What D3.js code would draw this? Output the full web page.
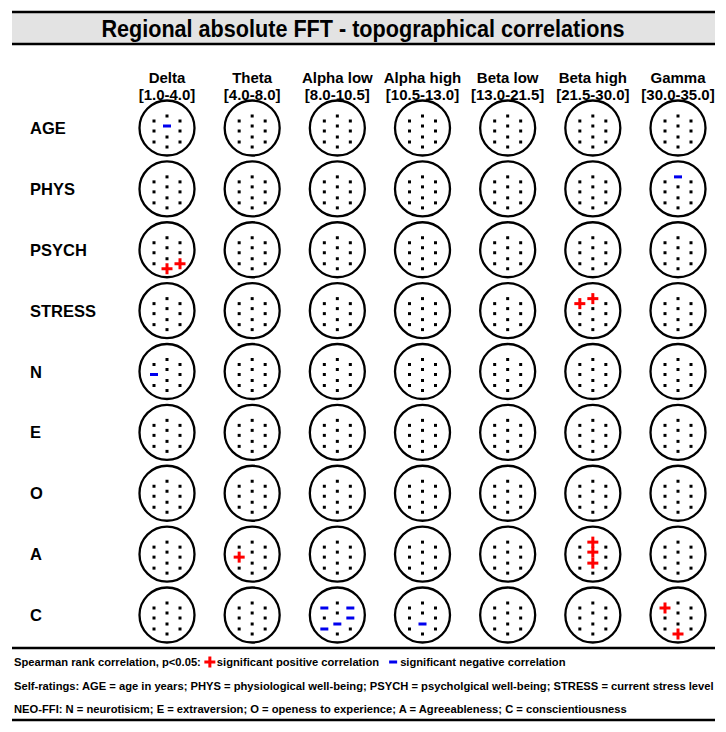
<!DOCTYPE html>
<html>
<head>
<meta charset="utf-8">
<script src="https://cdnjs.cloudflare.com/ajax/libs/d3/7.8.5/d3.min.js"></script>
<style>
  body { margin: 0; background: #fff; }
  text { font-family: "Liberation Sans", Arial, sans-serif; fill: #000; font-weight: bold; }
</style>
</head>
<body>
<div id="chart"></div>
<script>
// Frequency bands (columns)
var bands = ["Delta", "Theta", "Alpha low", "Alpha high", "Beta low", "Beta high", "Gamma"];
var bandRanges = ["[1.0-4.0]", "[4.0-8.0]", "[8.0-10.5]", "[10.5-13.0]", "[13.0-21.5]", "[21.5-30.0]", "[30.0-35.0]"];

// Self-ratings and NEO-FFI scales (rows)
var variables = ["AGE", "PHYS", "PSYCH", "STRESS", "N", "E", "O", "A", "C"];

// Electrodes on the head scheme
var electrodes = ["Fz", "Cz", "Pz", "Oz", "F3", "C3", "P3", "F4", "C4", "P4"];

// Significant correlations: variable, band, electrode, sign
var significant = [
  ["AGE", "Delta", "Cz", -1],
  ["PHYS", "Gamma", "Fz", -1],
  ["PSYCH", "Delta", "Oz", 1],
  ["PSYCH", "Delta", "P4", 1],
  ["STRESS", "Beta high", "Fz", 1],
  ["STRESS", "Beta high", "F3", 1],
  ["N", "Delta", "C3", -1],
  ["A", "Theta", "C3", 1],
  ["A", "Beta high", "Fz", 1],
  ["A", "Beta high", "Cz", 1],
  ["A", "Beta high", "Pz", 1],
  ["C", "Alpha low", "F3", -1],
  ["C", "Alpha low", "F4", -1],
  ["C", "Alpha low", "C4", -1],
  ["C", "Alpha low", "Pz", -1],
  ["C", "Alpha low", "P3", -1],
  ["C", "Alpha high", "Pz", -1],
  ["C", "Gamma", "F3", 1],
  ["C", "Gamma", "Oz", 1]
];

var legendTexts = ["Spearman rank correlation, p<0.05:", "significant positive correlation", "significant negative correlation"];
var footerLines = [
  "Self-ratings: AGE = age in years; PHYS = physiological well-being; PSYCH = psycholgical well-being; STRESS = current stress level",
  "NEO-FFI: N = neurotisicm; E = extraversion; O = openess to experience; A = Agreeableness; C = conscientiousness"
];

var width = 726, height = 732;
var r = 27.5;

// electrode layout inside the head circle (pixel offsets from centre)
var layout = {
  Fz: [0, -12], Cz: [0, -2], Pz: [0, 9], Oz: [0, 19],
  F3: [-13, -7], C3: [-13, 3], P3: [-13, 14],
  F4: [13, -7], C4: [13, 3], P4: [13, 14]
};

var svg = d3.select("#chart").append("svg")
  .attr("width", width)
  .attr("height", height);

// title band
svg.append("rect")
  .attr("x", 12).attr("y", 12)
  .attr("width", 703).attr("height", 32)
  .attr("fill", "#e3e3e3");
[12, 44].forEach(function(yy) {
  svg.append("line")
    .attr("x1", 12).attr("x2", 715)
    .attr("y1", yy).attr("y2", yy)
    .attr("stroke", "#000").attr("stroke-width", 2.5);
});
svg.append("text")
  .attr("transform", "translate(363,37) scale(0.9,1)")
  .attr("text-anchor", "middle")
  .style("font-size", "24px")
  .text("Regional absolute FFT - topographical correlations");

var x = d3.scalePoint().domain(bands).range([167, 678]);
var y = d3.scalePoint().domain(variables).range([128, 615]);

// column headers
var head = svg.append("g").selectAll("g")
  .data(bands)
  .enter().append("g")
  .attr("transform", function(d) { return "translate(" + x(d) + ",0)"; });
head.append("text")
  .attr("y", 83)
  .attr("text-anchor", "middle")
  .style("font-size", "15px")
  .text(function(d) { return d; });
head.append("text")
  .attr("y", 100)
  .attr("text-anchor", "middle")
  .style("font-size", "15px")
  .text(function(d, i) { return bandRanges[i]; });

// row labels
svg.append("g").selectAll("text")
  .data(variables)
  .enter().append("text")
  .attr("x", 30)
  .attr("y", function(d) { return y(d) + 6; })
  .style("font-size", "16.5px")
  .text(function(d) { return d; });

// lookup of significant results
var sig = {};
significant.forEach(function(s) { sig[s[0] + "|" + s[1] + "|" + s[2]] = s[3]; });

var cells = [];
variables.forEach(function(v) {
  bands.forEach(function(b) { cells.push({v: v, b: b}); });
});

var heads = svg.append("g").selectAll("g")
  .data(cells)
  .enter().append("g")
  .attr("transform", function(d) { return "translate(" + x(d.b) + "," + y(d.v) + ")"; });

heads.append("circle")
  .attr("r", r)
  .attr("fill", "none")
  .attr("stroke", "#000")
  .attr("stroke-width", 2.3);

heads.each(function(c) {
  var g = d3.select(this);
  electrodes.forEach(function(e) {
    var p = layout[e];
    var s = sig[c.v + "|" + c.b + "|" + e];
    if (s === 1) drawPlus(g, p[0], p[1]);
    else if (s === -1) drawMinus(g, p[0], p[1]);
    else {
      g.append("rect")
        .attr("x", p[0] - 1.5).attr("y", p[1] - 1.5)
        .attr("width", 3).attr("height", 3)
        .attr("fill", "#000");
    }
  });
});

function drawPlus(g, px, py) {
  g.append("rect")
    .attr("x", px - 5.5).attr("y", py - 1.5)
    .attr("width", 11).attr("height", 3)
    .attr("fill", "#ff0000");
  g.append("rect")
    .attr("x", px - 1.5).attr("y", py - 5.5)
    .attr("width", 3).attr("height", 11)
    .attr("fill", "#ff0000");
}

function drawMinus(g, px, py) {
  g.append("rect")
    .attr("x", px - 4).attr("y", py - 1.5)
    .attr("width", 8).attr("height", 3)
    .attr("fill", "#0000ee");
}

// footer
[648, 720].forEach(function(yy) {
  svg.append("line")
    .attr("x1", 12).attr("x2", 715)
    .attr("y1", yy).attr("y2", yy)
    .attr("stroke", "#000").attr("stroke-width", 2.5);
});

function footText(tx, ty, s) {
  return svg.append("text")
    .attr("x", tx).attr("y", ty)
    .style("font-size", "11.2px")
    .text(s);
}

var t1 = footText(14, 666, legendTexts[0]);
var lx = 14 + t1.node().getComputedTextLength();
drawPlus(svg, lx + 9, 662);
var t2 = footText(lx + 16, 666, legendTexts[1]);
var lx2 = lx + 16 + t2.node().getComputedTextLength();
drawMinus(svg, lx2 + 14, 662);
footText(lx2 + 21, 666, legendTexts[2]);

footerLines.forEach(function(s, i) {
  footText(14, 690 + i * 23, s);
});
</script>
</body>
</html>
